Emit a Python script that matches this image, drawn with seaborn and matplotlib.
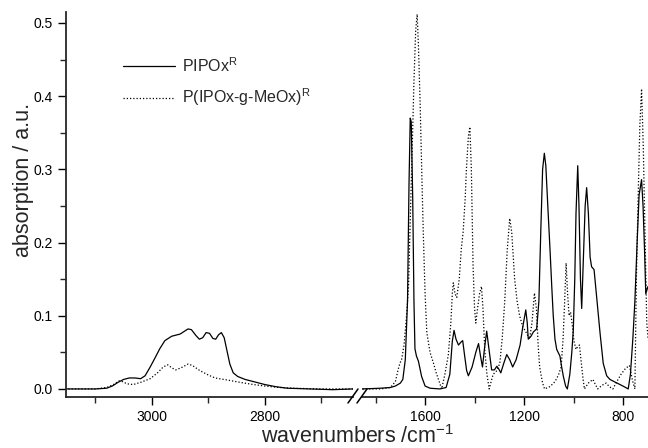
import numpy as np
import pandas as pd
import seaborn as sns
import matplotlib.pyplot as plt
from matplotlib.lines import Line2D

# spectra: wavenumber (cm-1) and absorption (a.u.)
# high wavenumber part (left panel)
wn_hi_solid = [3152, 3100, 3080, 3070, 3060, 3050, 3040, 3030, 3020, 3012, 3003, 2994,
               2986, 2977, 2965, 2950, 2940, 2936, 2930, 2922, 2916, 2910, 2904, 2898,
               2892, 2887, 2882, 2877, 2872, 2867, 2862, 2856, 2848, 2835, 2820, 2800,
               2780, 2760, 2720, 2680, 2644]
ab_hi_solid = [0.0, 0.0, 0.001, 0.004, 0.009, 0.013, 0.015, 0.015, 0.014, 0.018, 0.030, 0.043,
               0.055, 0.066, 0.072, 0.075, 0.080, 0.082, 0.081, 0.073, 0.068, 0.070, 0.077, 0.076,
               0.069, 0.068, 0.074, 0.077, 0.070, 0.052, 0.034, 0.022, 0.017, 0.013, 0.010, 0.006,
               0.003, 0.001, 0.0, -0.001, 0.0]

wn_hi_dot = [3152, 3100, 3080, 3068, 3058, 3052, 3044, 3033, 3020, 3003, 2990, 2980,
             2972, 2965, 2958, 2948, 2936, 2928, 2915, 2900, 2888, 2865, 2844, 2820,
             2800, 2775, 2750, 2700, 2644]
ab_hi_dot = [0.0, 0.0, 0.002, 0.006, 0.011, 0.010, 0.007, 0.006, 0.009, 0.014, 0.022, 0.030,
             0.033, 0.029, 0.026, 0.029, 0.034, 0.032, 0.025, 0.019, 0.015, 0.012, 0.009, 0.006,
             0.004, 0.002, 0.001, 0.0, 0.0]

# fingerprint part (right panel)
wn_lo_solid = [1855, 1780, 1740, 1720, 1700, 1690, 1680, 1671, 1665, 1660, 1656, 1650,
               1645, 1641, 1635, 1627, 1614, 1600, 1580, 1540, 1515, 1500, 1490, 1483,
               1475, 1465, 1455, 1448, 1440, 1432, 1425, 1410, 1395, 1384, 1376, 1368,
               1360, 1351, 1342, 1331, 1320, 1310, 1300, 1294, 1282, 1270, 1258, 1246,
               1232, 1216, 1205, 1193, 1187, 1183, 1172, 1162, 1149, 1140, 1132, 1125,
               1118, 1112, 1104, 1095, 1088, 1082, 1075, 1068, 1055, 1048, 1041, 1032,
               1025, 1015, 1007, 1001, 995, 990, 983, 978, 972, 967, 960, 953,
               947, 940, 933, 927, 917, 905, 893, 880, 866, 853, 830, 812,
               795, 779, 770, 760, 752, 743, 735, 725, 719, 713, 708, 699]
ab_lo_solid = [0.0, 0.001, 0.002, 0.004, 0.008, 0.013, 0.040, 0.120, 0.280, 0.370, 0.365, 0.260,
               0.120, 0.055, 0.045, 0.038, 0.017, 0.004, 0.001, 0.0, 0.002, 0.020, 0.065, 0.080,
               0.068, 0.060, 0.064, 0.066, 0.045, 0.025, 0.018, 0.030, 0.050, 0.062, 0.045, 0.030,
               0.055, 0.079, 0.055, 0.026, 0.026, 0.031, 0.026, 0.022, 0.035, 0.047, 0.040, 0.030,
               0.040, 0.060, 0.085, 0.108, 0.090, 0.068, 0.072, 0.078, 0.082, 0.120, 0.220, 0.300,
               0.322, 0.305, 0.250, 0.190, 0.140, 0.100, 0.068, 0.054, 0.045, 0.030, 0.017, 0.004,
               0.0, 0.020, 0.050, 0.080, 0.150, 0.240, 0.305, 0.250, 0.150, 0.110, 0.180, 0.250,
               0.275, 0.240, 0.180, 0.167, 0.163, 0.120, 0.077, 0.035, 0.018, 0.013, 0.009, 0.006,
               0.003, 0.0, 0.020, 0.070, 0.120, 0.200, 0.265, 0.286, 0.250, 0.190, 0.130, 0.140]

wn_lo_dot = [1855, 1780, 1740, 1720, 1710, 1702, 1695, 1685, 1675, 1667, 1660, 1652,
             1645, 1638, 1632, 1627, 1620, 1613, 1607, 1600, 1593, 1580, 1566, 1555,
             1546, 1533, 1520, 1506, 1496, 1490, 1486, 1479, 1472, 1462, 1454, 1446,
             1438, 1433, 1425, 1419, 1413, 1406, 1400, 1395, 1388, 1380, 1372, 1366,
             1359, 1350, 1341, 1325, 1310, 1298, 1288, 1278, 1268, 1258, 1250, 1238,
             1228, 1218, 1205, 1191, 1178, 1168, 1158, 1150, 1143, 1137, 1125, 1117,
             1097, 1080, 1070, 1060, 1050, 1042, 1037, 1030, 1024, 1018, 1012, 1006,
             998, 990, 983, 976, 970, 962, 956, 940, 922, 910, 902, 885,
             868, 855, 841, 825, 808, 790, 774, 762, 752, 746, 739, 732,
             725, 718, 711, 704, 699]
ab_lo_dot = [0.0, 0.0, 0.002, 0.010, 0.025, 0.035, 0.040, 0.060, 0.100, 0.140, 0.230, 0.330,
             0.420, 0.490, 0.512, 0.470, 0.390, 0.290, 0.210, 0.130, 0.077, 0.050, 0.035, 0.022,
             0.013, 0.0, 0.020, 0.047, 0.090, 0.130, 0.145, 0.130, 0.125, 0.150, 0.190, 0.215,
             0.260, 0.300, 0.345, 0.358, 0.300, 0.167, 0.110, 0.090, 0.110, 0.130, 0.140, 0.110,
             0.054, 0.020, 0.0, 0.020, 0.025, 0.035, 0.070, 0.120, 0.190, 0.233, 0.215, 0.150,
             0.120, 0.100, 0.085, 0.077, 0.068, 0.090, 0.131, 0.110, 0.060, 0.030, 0.008, 0.0,
             0.003, 0.008, 0.013, 0.020, 0.030, 0.070, 0.110, 0.172, 0.130, 0.100, 0.105, 0.090,
             0.065, 0.054, 0.058, 0.060, 0.040, 0.015, 0.0, 0.008, 0.013, 0.005, 0.0, 0.005,
             0.008, 0.003, 0.0, 0.010, 0.020, 0.028, 0.032, 0.012, 0.0, 0.150, 0.260, 0.360,
             0.410, 0.330, 0.210, 0.090, 0.070]

labels = ['PIPOx$^\\mathregular{R}$', 'P(IPOx-g-MeOx)$^\\mathregular{R}$']

sns.set_style('ticks')
plt.rcParams['font.family'] = ['Liberation Sans', 'DejaVu Sans']
plt.rcParams['mathtext.fontset'] = 'custom'
plt.rcParams['mathtext.rm'] = 'Liberation Sans'

W, H = 648, 448
fig = plt.figure(figsize=(W / 100, H / 100), dpi=100)
ax1 = fig.add_axes([66 / W, 51 / H, (353 - 66) / W, 385 / H])
ax2 = fig.add_axes([362 / W, 51 / H, (W - 362) / W, 385 / H], sharey=ax1)

dots = (0, (1, 1.6))
for ax, s, d in [(ax1, (wn_hi_solid, ab_hi_solid), (wn_hi_dot, ab_hi_dot)),
                 (ax2, (wn_lo_solid, ab_lo_solid), (wn_lo_dot, ab_lo_dot))]:
    sns.lineplot(x=s[0], y=s[1], ax=ax, color='black', linewidth=0.9, legend=False)
    sns.lineplot(x=d[0], y=d[1], ax=ax, color='black', linewidth=0.9, linestyle=dots, legend=False)
    for sp in ['top', 'right']:
        ax.spines[sp].set_visible(False)
    ax.spines['bottom'].set_linewidth(1.3)
    ax.tick_params(axis='both', which='major', direction='out', length=6, width=1,
                   labelsize=10, colors='black')
    ax.tick_params(axis='both', which='minor', direction='out', length=4, width=1)

ax1.set_xlim(3152, 2644)
ax2.set_xlim(1855, 699)
ax1.set_ylim(-0.011, 0.515)

ax1.set_xticks([3000, 2800])
ax1.set_xticks([3100, 2900, 2700], minor=True)
ax2.set_xticks([1600, 1200, 800])
ax2.set_xticks([1800, 1400, 1000], minor=True)
ax1.set_yticks([0.0, 0.1, 0.2, 0.3, 0.4, 0.5])
ax1.set_yticks([0.05, 0.15, 0.25, 0.35, 0.45], minor=True)
ax1.set_yticklabels(['0.0', '0.1', '0.2', '0.3', '0.4', '0.5'])
ax1.spines['left'].set_linewidth(1.3)

ax2.spines['left'].set_visible(False)
ax2.tick_params(axis='y', which='both', left=False, labelleft=False)
ax1.set_xlabel('')
ax1.set_ylabel('')
ax2.set_xlabel('')
ax2.set_ylabel('')

# axis break marks
for x0 in (348, 357):
    fig.add_artist(Line2D([x0 / W, (x0 + 10) / W], [1 - 403 / H, 1 - 389 / H],
                          color='black', linewidth=1.1, transform=fig.transFigure))

fig.text(358 / W, 1 - 437 / H, 'wavenumbers /cm$^{\\mathregular{-1}}$',
         ha='center', va='center', fontsize=15.5)
fig.text(24 / W, 1 - 180 / H, 'absorption / a.u.', rotation=90,
         ha='center', va='center', fontsize=15.5)

handles = ax1.get_lines()[:2]
ax1.legend(handles, labels, loc='upper left', bbox_to_anchor=(123 / W, 1 - 56 / H),
           bbox_transform=fig.transFigure, frameon=False, fontsize=11.5,
           borderpad=0, borderaxespad=0, handlelength=3.25, handletextpad=0.45,
           labelspacing=0.75)

fig.savefig('out.png', dpi=100)
